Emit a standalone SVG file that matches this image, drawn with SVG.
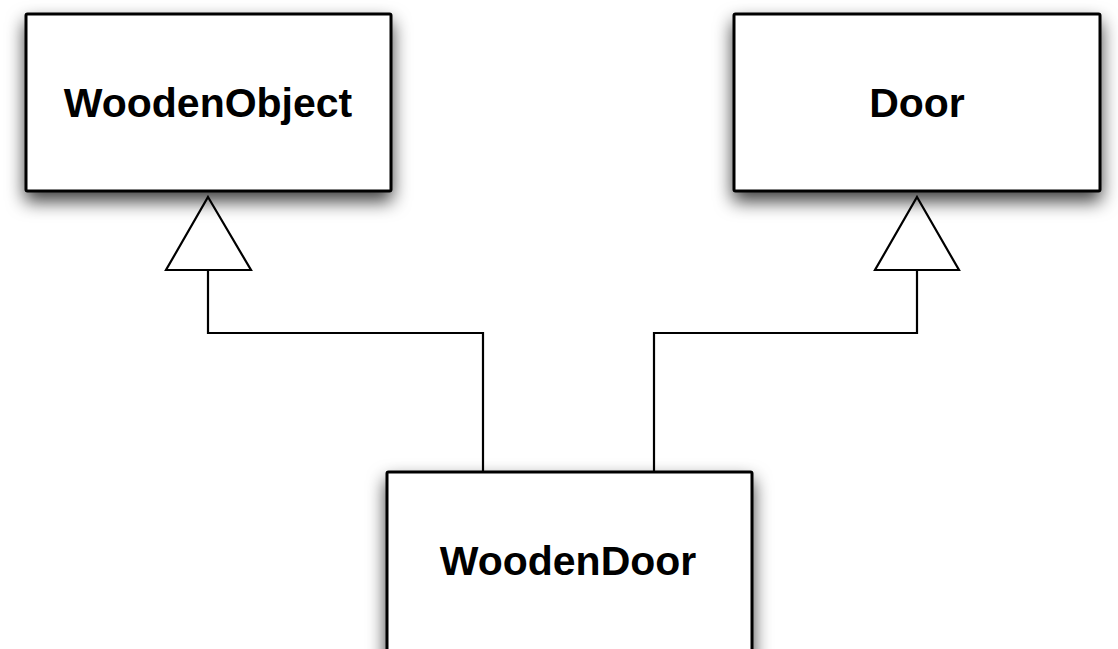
<svg xmlns="http://www.w3.org/2000/svg" width="1118" height="649" viewBox="0 0 1118 649">
<style>
.box{fill:#fff;stroke:#000;stroke-width:3;filter:url(#sh)}
.lbl{font-family:"Liberation Sans",Arial,sans-serif;font-weight:bold;font-size:41px;fill:#000;text-anchor:middle}
.con{fill:none;stroke:#000;stroke-width:2.2}
.tri{fill:#fff;stroke:#000;stroke-width:2.2;stroke-linejoin:miter}
</style>
<defs>
<filter id="sh" x="-20%" y="-20%" width="140%" height="160%">
<feDropShadow dx="0" dy="9" stdDeviation="9" flood-color="#000" flood-opacity="0.75"/>
</filter>
</defs>
<rect width="1118" height="649" fill="#fff"/>
<g id="connectors">
<path class="con" d="M483,472 V333 H208 V270"/>
<polygon class="tri" points="208,197 251,270 166,270"/>
<path class="con" d="M654,472 V333 H917 V270"/>
<polygon class="tri" points="917,197 959,270 875,270"/>
</g>
<g id="WoodenObject">
<rect class="box" x="26" y="14" width="365" height="177" rx="1.5"/>
<text class="lbl" x="208" y="117">WoodenObject</text>
</g>
<g id="Door">
<rect class="box" x="734" y="14" width="366" height="177" rx="1.5"/>
<text class="lbl" x="917" y="117">Door</text>
</g>
<g id="WoodenDoor">
<rect class="box" x="387" y="472" width="365" height="200" rx="1.5"/>
<text class="lbl" x="568" y="575">WoodenDoor</text>
</g>
</svg>
